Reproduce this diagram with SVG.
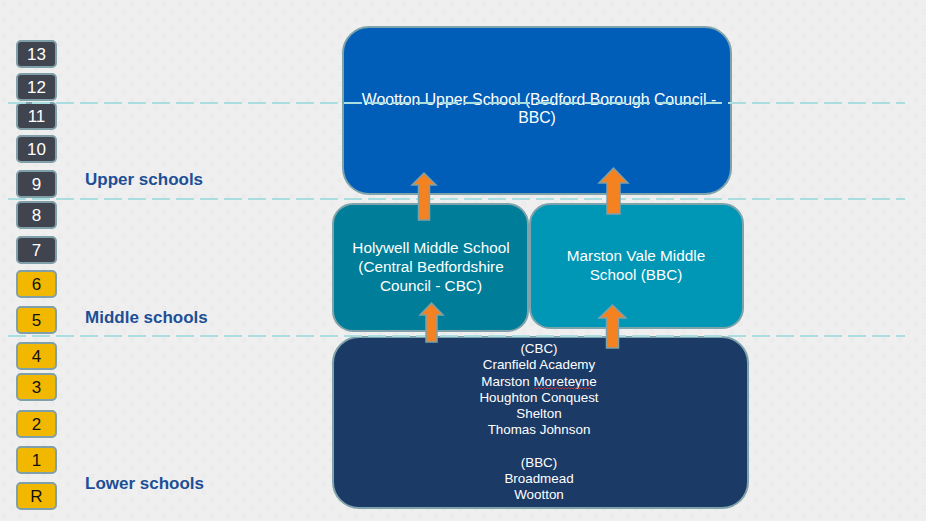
<svg xmlns="http://www.w3.org/2000/svg" width="926" height="521" viewBox="0 0 926 521">
<defs>
<pattern id="dots" width="16" height="16" patternUnits="userSpaceOnUse">
<circle cx="4" cy="4" r="2" fill="none" stroke="#e4e4e4" stroke-width="0.8"/>
<circle cx="12" cy="12" r="2" fill="none" stroke="#e6e6e6" stroke-width="0.8"/>
</pattern>
<style>
.bg{fill:#efefef}
.badge rect{stroke:#7fa0a8;stroke-width:2}
.dark rect{fill:#40444f}
.yel rect{fill:#f2b800}
.badge text{font-family:"Liberation Sans",Arial,sans-serif;font-size:17px;text-anchor:middle}
.dark text{fill:#ffffff}
.yel text{fill:#111111}
.lvl{font-family:"Liberation Sans",Arial,sans-serif;font-size:17px;font-weight:bold;fill:#1d4f97}
.box{stroke:#7fa3ab;stroke-width:2}
.bt{font-family:"Liberation Sans",Arial,sans-serif;fill:#ffffff;text-anchor:middle}
.dash{stroke:#aadde0;stroke-width:2;stroke-dasharray:18 6;fill:none}
.arrow{fill:#f58220;stroke:#7fa0a8;stroke-width:1.5}
</style>
</defs>
<rect class="bg" x="0" y="0" width="926" height="521"/>
<rect x="0" y="0" width="926" height="521" fill="url(#dots)"/>

<g id="grades">
<g id="g13" class="badge dark"><rect x="17" y="41" width="39" height="26" rx="4"/><text x="36.5" y="60">13</text></g>
<g id="g12" class="badge dark"><rect x="17" y="74" width="39" height="26" rx="4"/><text x="36.5" y="93">12</text></g>
<g id="g11" class="badge dark"><rect x="17" y="103" width="39" height="26" rx="4"/><text x="36.5" y="122">11</text></g>
<g id="g10" class="badge dark"><rect x="17" y="136" width="39" height="26" rx="4"/><text x="36.5" y="155">10</text></g>
<g id="g9" class="badge dark"><rect x="17" y="171" width="39" height="26" rx="4"/><text x="36.5" y="190">9</text></g>
<g id="g8" class="badge dark"><rect x="17" y="202" width="39" height="26" rx="4"/><text x="36.5" y="221">8</text></g>
<g id="g7" class="badge dark"><rect x="17" y="237" width="39" height="26" rx="4"/><text x="36.5" y="256">7</text></g>
<g id="g6" class="badge yel"><rect x="17" y="271" width="39" height="26" rx="4"/><text x="36.5" y="290">6</text></g>
<g id="g5" class="badge yel"><rect x="17" y="307" width="39" height="26" rx="4"/><text x="36.5" y="326">5</text></g>
<g id="g4" class="badge yel"><rect x="17" y="343" width="39" height="26" rx="4"/><text x="36.5" y="362">4</text></g>
<g id="g3" class="badge yel"><rect x="17" y="374" width="39" height="26" rx="4"/><text x="36.5" y="393">3</text></g>
<g id="g2" class="badge yel"><rect x="17" y="411" width="39" height="26" rx="4"/><text x="36.5" y="430">2</text></g>
<g id="g1" class="badge yel"><rect x="17" y="447" width="39" height="26" rx="4"/><text x="36.5" y="466">1</text></g>
<g id="gR" class="badge yel"><rect x="17" y="483" width="39" height="26" rx="4"/><text x="36.5" y="502">R</text></g>
</g>

<text class="lvl" x="85" y="185">Upper schools</text>
<text class="lvl" x="85" y="323">Middle schools</text>
<text class="lvl" x="85" y="489">Lower schools</text>

<g id="upper">
<rect class="box" x="343" y="27" width="388" height="167" rx="26" fill="#005eb8"/>
<text class="bt" font-size="15.8" x="539" y="105">Wootton Upper School (Bedford Borough Council -</text>
<text class="bt" font-size="15.8" x="537" y="123">BBC)</text>
</g>

<g id="holywell">
<rect class="box" x="333" y="204" width="195" height="127" rx="20" fill="#007d98"/>
<text class="bt" font-size="15.3" x="431" y="253">Holywell Middle School</text>
<text class="bt" font-size="15.3" x="431" y="272">(Central Bedfordshire</text>
<text class="bt" font-size="15.3" x="431" y="291">Council - CBC)</text>
</g>

<g id="marston">
<rect class="box" x="530" y="204" width="213" height="124" rx="20" fill="#0096b5"/>
<text class="bt" font-size="15.3" x="636" y="261">Marston Vale Middle</text>
<text class="bt" font-size="15.3" x="636" y="280">School (BBC)</text>
</g>

<g id="lower">
<rect class="box" x="333" y="337" width="415" height="171" rx="26" fill="#1b3a66"/>
<g class="bt" font-size="13.4">
<text x="539" y="353">(CBC)</text>
<text x="539" y="369">Cranfield Academy</text>
<text x="539" y="386">Marston Moreteyne</text>
<text x="539" y="402">Houghton Conquest</text>
<text x="539" y="418">Shelton</text>
<text x="539" y="434">Thomas Johnson</text>
<text x="539" y="467">(BBC)</text>
<text x="539" y="483">Broadmead</text>
<text x="539" y="499">Wootton</text>
</g>
<path d="M534 389 l1.5 -1.5 l1.5 1.5 l1.5 -1.5 l1.5 1.5 l1.5 -1.5 l1.5 1.5 l1.5 -1.5 l1.5 1.5 l1.5 -1.5 l1.5 1.5 l1.5 -1.5 l1.5 1.5 l1.5 -1.5 l1.5 1.5 l1.5 -1.5 l1.5 1.5 l1.5 -1.5 l1.5 1.5 l1.5 -1.5 l1.5 1.5 l1.5 -1.5 l1.5 1.5 l1.5 -1.5 l1.5 1.5 l1.5 -1.5 l1.5 1.5 l1.5 -1.5 l1.5 1.5 l1.5 -1.5 l1.5 1.5 l1.5 -1.5 l1.5 1.5 l1.5 -1.5 l1.5 1.5 l1.5 -1.5 l1.5 1.5 l1.5 -1.5 l1.5 1.5" fill="none" stroke="#e0302a" stroke-width="0.8"/>
</g>

<g id="guides">
<line class="dash" x1="8" y1="103" x2="905" y2="103"/>
<line class="dash" x1="8" y1="199" x2="905" y2="199"/>
<line class="dash" x1="8" y1="336" x2="905" y2="336"/>
</g>

<g id="connectors">
<path class="arrow" d="M418.5 220 V185 H412 L424 173 L436 185 H429.5 V220 Z"/>
<path class="arrow" d="M607 214 V183 H599 L613.5 168 L628 183 H620 V214 Z"/>
<path class="arrow" d="M426 342 V315 H420 L431.5 303 L443 315 H437 V342 Z"/>
<path class="arrow" d="M606.5 348 V318 H599 L612.5 305 L626 318 H618.5 V348 Z"/>
</g>
</svg>
